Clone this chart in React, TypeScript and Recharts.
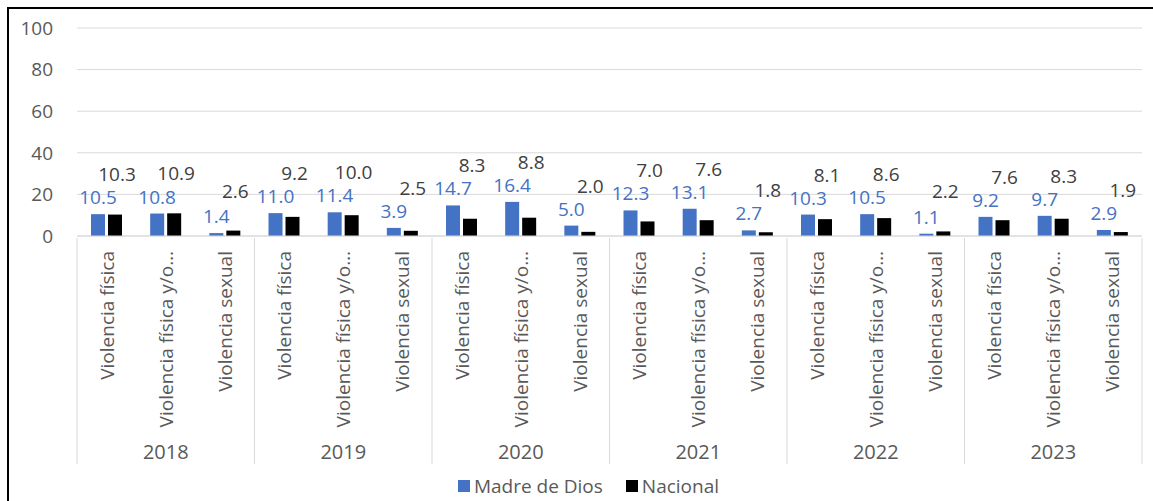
import { BarChart, Bar, XAxis, YAxis, CartesianGrid, Legend, LabelList } from 'recharts';

// años y tipos de violencia (eje de dos niveles)
const years = ['2018', '2019', '2020', '2021', '2022', '2023'];
const tipos = ['Violencia física', 'Violencia física y/o sexual', 'Violencia sexual'];

// valores por año, en el orden de "tipos"
const madreDeDios = [10.5, 10.8, 1.4, 11.0, 11.4, 3.9, 14.7, 16.4, 5.0, 12.3, 13.1, 2.7, 10.3, 10.5, 1.1, 9.2, 9.7, 2.9];
const nacional = [10.3, 10.9, 2.6, 9.2, 10.0, 2.5, 8.3, 8.8, 2.0, 7.0, 7.6, 1.8, 8.1, 8.6, 2.2, 7.6, 8.3, 1.9];

const yTicks = [0, 20, 40, 60, 80, 100];

const data = madreDeDios.map((v, i) => ({
  year: years[Math.floor(i / 3)],
  cat: tipos[i % 3],
  mdd: v,
  nac: nacional[i],
}));

const FONT = '"Open Sans", sans-serif';
const GRAY = '#595959';
const LINE = '#d9d9d9';
const BLUE = '#4472C4';

const W = 1144;
const H = 492;
const MARGIN = { top: 19, right: 11, left: 0, bottom: 4 };
const Y_W = 68;
const CAT_H = 200;
const YEAR_H = 39;
const BAND = (W - MARGIN.left - MARGIN.right - Y_W) / data.length;

const shorten = (s: string) => (s.length > 20 ? s.slice(0, 20) + '…' : s);

const CatTick = (props: any) => {
  const { x, y, payload } = props;
  const ty = y + 13;
  return (
    <text
      x={x}
      y={ty}
      transform={`rotate(-90 ${x} ${ty})`}
      textAnchor="end"
      dominantBaseline="central"
      fill={GRAY}
      fontSize={19}
      fontFamily={FONT}
    >
      {shorten(payload.value)}
    </text>
  );
};

const YearTick = (props: any) => {
  const { x, y, index, payload } = props;
  return (
    <g>
      {index % 3 === 0 && (
        <line x1={x - BAND / 2} x2={x - BAND / 2} y1={y - CAT_H} y2={y + 26} stroke={LINE} />
      )}
      {index === data.length - 1 && (
        <line x1={x + BAND / 2} x2={x + BAND / 2} y1={y - CAT_H} y2={y + 26} stroke={LINE} />
      )}
      {index % 3 === 1 && (
        <text x={x} y={y + 13} textAnchor="middle" dominantBaseline="central" fill={GRAY} fontSize={20} fontFamily={FONT}>
          {payload.value}
        </text>
      )}
    </g>
  );
};

// etiqueta de la serie Nacional: por encima de su barra y de la barra azul vecina
const NacLabel = (props: any) => {
  const { x, y, width, height, value, index } = props;
  const base = y + height;
  const perUnit = value ? height / value : 0;
  const blueTop = base - data[index].mdd * perUnit;
  const ty = Math.min(y, blueTop) - 33;
  return (
    <text x={x + width / 2 + 2} y={ty} textAnchor="middle" fill="#404040" fontSize={19} fontFamily={FONT}>
      {Number(value).toFixed(1)}
    </text>
  );
};

const renderLegend = (props: any) => {
  const { payload } = props;
  return (
    <div
      style={{
        height: 22,
        lineHeight: '22px',
        display: 'flex',
        justifyContent: 'center',
        alignItems: 'center',
        gap: 23,
        paddingLeft: 26,
        fontFamily: FONT,
        fontSize: 19,
        color: GRAY,
      }}
    >
      {payload.map((entry: any, i: number) => (
        <span key={`leg-${i}`} style={{ display: 'flex', alignItems: 'center' }}>
          <span style={{ width: 12, height: 12, background: entry.color, marginRight: 4, display: 'inline-block' }} />
          {entry.value}
        </span>
      ))}
    </div>
  );
};

const fmt = (v: any) => Number(v).toFixed(1);

export default function App() {
  return (
    <div style={{ width: 1153, height: 501, boxSizing: 'border-box', paddingTop: 7, paddingLeft: 7, overflow: 'hidden', background: '#fff' }}>
      <style>{'body{margin:0}'}</style>
      <div style={{ borderTop: '2px solid #000', borderLeft: '2px solid #000', width: W + 2, height: H + 2, boxSizing: 'border-box' }}>
        <BarChart width={W} height={H} data={data} margin={MARGIN} barSize={14} barGap={3}>
          <CartesianGrid vertical={false} stroke={LINE} />
          <XAxis
            dataKey="cat"
            height={CAT_H}
            interval={0}
            tickLine={false}
            tickSize={0}
            axisLine={{ stroke: LINE }}
            tick={<CatTick />}
          />
          <XAxis
            xAxisId="yr"
            dataKey="year"
            height={YEAR_H}
            interval={0}
            tickLine={false}
            tickSize={0}
            axisLine={false}
            tick={<YearTick />}
          />
          <YAxis
            width={Y_W}
            domain={[0, 100]}
            ticks={yTicks}
            tickLine={false}
            axisLine={false}
            tickSize={0}
            tickMargin={24}
            tick={{ fill: GRAY, fontSize: 19, fontFamily: FONT }}
          />
          <Legend verticalAlign="bottom" content={renderLegend} />
          <Bar dataKey="mdd" name="Madre de Dios" fill={BLUE} isAnimationActive={false}>
            <LabelList dataKey="mdd" position="top" offset={10} formatter={fmt} fill={BLUE} fontSize={19} fontFamily={FONT} />
          </Bar>
          <Bar dataKey="nac" name="Nacional" fill="#000000" isAnimationActive={false}>
            <LabelList dataKey="nac" content={<NacLabel />} />
          </Bar>
        </BarChart>
      </div>
    </div>
  );
}
